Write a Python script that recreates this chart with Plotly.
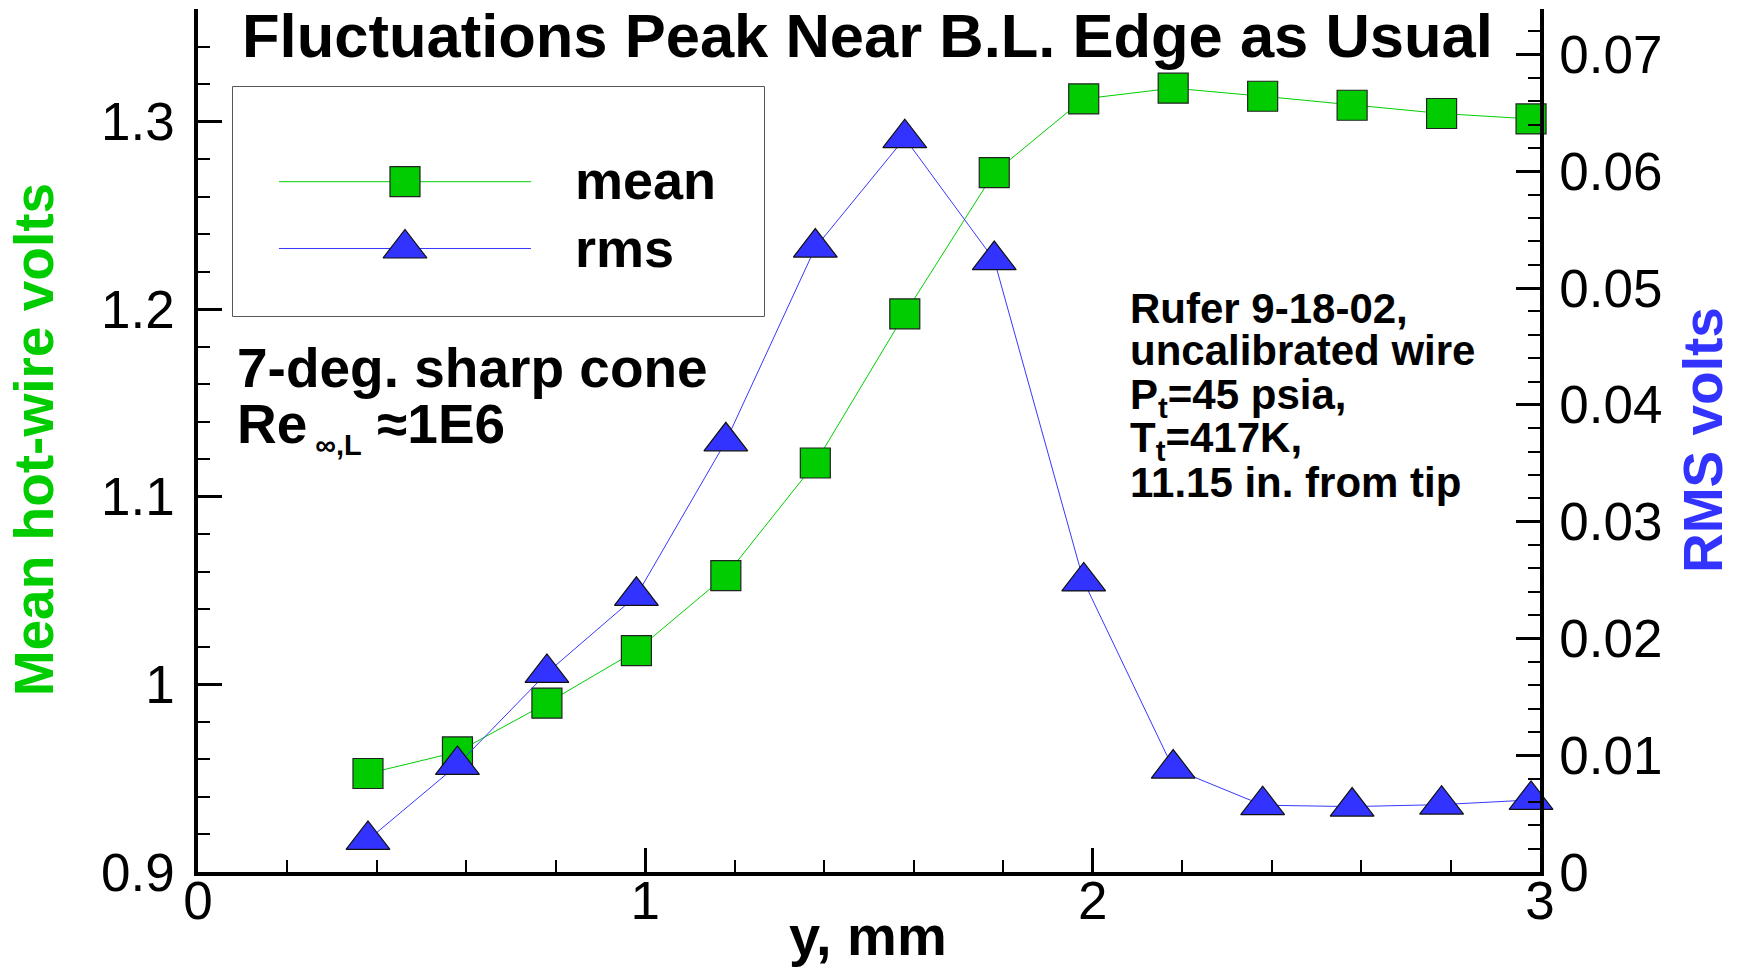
import plotly.graph_objects as go

# ---------------- data ----------------
y_mm = [0.38, 0.58, 0.78, 0.98, 1.18, 1.38, 1.58, 1.78, 1.98, 2.18, 2.38, 2.58, 2.78, 2.98]
mean_volts = [0.9525, 0.9640, 0.9900, 1.0180, 1.0580, 1.1180, 1.1975, 1.2728, 1.3121, 1.3178,
              1.3135, 1.3087, 1.3043, 1.3014]
rms_volts = [0.00275, 0.00917, 0.01705, 0.02365, 0.03688, 0.05347, 0.06284, 0.05240, 0.02488,
             0.00886, 0.00572, 0.00560, 0.00577, 0.00617]

x_ticks = [0, 1, 2, 3]
x_ticktext = ["0", "1", "2", "3"]
left_ticks = [0.9, 1.0, 1.1, 1.2, 1.3]
left_ticktext = ["0.9", "1", "1.1", "1.2", "1.3"]
right_ticks = [0, 0.01, 0.02, 0.03, 0.04, 0.05, 0.06, 0.07]
right_ticktext = ["0", "0.01", "0.02", "0.03", "0.04", "0.05", "0.06", "0.07"]

series_names = ["mean", "rms"]

# ---------------- styling / layout helpers ----------------
W, H = 1741, 967
ML, MR, MT, MB = 198, 201, 9, 95
PW, PH = W - ML - MR, H - MT - MB

def px_x(px):
    return (px - ML) / PW

def px_y(py):
    return (H - MB - py) / PH

FONT = "Liberation Sans, Arial, Helvetica, sans-serif"
GREEN = "#00CC00"
BLUE = "#3333FF"
GREEN_LINE = "#00D000"
BLUE_LINE = "#3838FF"

fig = go.Figure()

fig.add_trace(go.Scatter(
    x=y_mm, y=mean_volts, name=series_names[0], mode="lines+markers",
    line=dict(color=GREEN_LINE, width=1),
    marker=dict(symbol="square", size=30, color=GREEN, line=dict(color="#222222", width=1.2)),
    cliponaxis=False, showlegend=False, xaxis="x", yaxis="y"))

fig.add_trace(go.Scatter(
    x=y_mm, y=rms_volts, name=series_names[1], mode="lines+markers",
    line=dict(color=BLUE_LINE, width=1),
    marker=dict(symbol="triangle-up", size=38, color=BLUE, line=dict(color="#111111", width=1.2)),
    cliponaxis=False, showlegend=False, xaxis="x", yaxis="y2"))

# ---------------- hand-made legend (sample lines + markers) ----------------
leg_x0, leg_x1, leg_y0, leg_y1 = 233, 764, 87, 316
sample_rows = [0.5865, 0.2948]
sample_line_x = [0.0866, 0.5612]
sample_marker_x = 0.3239
fig.add_trace(go.Scatter(x=sample_line_x, y=[sample_rows[0]] * 2, mode="lines",
                         line=dict(color=GREEN_LINE, width=1), showlegend=False,
                         hoverinfo="skip", xaxis="x3", yaxis="y3"))
fig.add_trace(go.Scatter(x=[sample_marker_x], y=[sample_rows[0]], mode="markers",
                         marker=dict(symbol="square", size=30, color=GREEN,
                                     line=dict(color="#222222", width=1.2)),
                         showlegend=False, hoverinfo="skip", cliponaxis=False,
                         xaxis="x3", yaxis="y3"))
fig.add_trace(go.Scatter(x=sample_line_x, y=[sample_rows[1]] * 2, mode="lines",
                         line=dict(color=BLUE_LINE, width=1), showlegend=False,
                         hoverinfo="skip", xaxis="x3", yaxis="y3"))
fig.add_trace(go.Scatter(x=[sample_marker_x], y=[sample_rows[1]], mode="markers",
                         marker=dict(symbol="triangle-up", size=38, color=BLUE,
                                     line=dict(color="#111111", width=1.2)),
                         showlegend=False, hoverinfo="skip", cliponaxis=False,
                         xaxis="x3", yaxis="y3"))

axis_common = dict(
    showline=True, linecolor="black", linewidth=3.5, mirror=False,
    showgrid=False, zeroline=False,
    ticks="inside", ticklen=24, tickwidth=3, tickcolor="black",
    tickfont=dict(family=FONT, size=53, color="black"),
)

fig.update_layout(
    width=W, height=H, autosize=False,
    margin=dict(l=ML, r=MR, t=MT, b=MB, pad=0),
    paper_bgcolor="white", plot_bgcolor="white",
    showlegend=False,
    xaxis=dict(range=[0, 3], tickvals=x_ticks, ticktext=x_ticktext,
               minor=dict(dtick=0.2, tick0=0, ticks="inside", ticklen=12, tickwidth=1.5,
                          tickcolor="black"),
               ticklabelstandoff=-20,
               **axis_common),
    yaxis=dict(range=[0.9, 1.36], tickvals=left_ticks, ticktext=left_ticktext,
               minor=dict(dtick=0.02, tick0=0.9, ticks="inside", ticklen=12, tickwidth=1.5,
                          tickcolor="black"),
               ticklabelstandoff=9,
               **axis_common),
    yaxis2=dict(range=[0, 0.0739], overlaying="y", side="right", anchor="x",
                tickvals=right_ticks, ticktext=right_ticktext,
                minor=dict(dtick=0.002, tick0=0, ticks="inside", ticklen=12, tickwidth=1.5,
                           tickcolor="black"),
                ticklabelstandoff=5,
                **axis_common),
    xaxis3=dict(domain=[px_x(leg_x0), px_x(leg_x1)], range=[0, 1], visible=False,
                anchor="y3", fixedrange=True),
    yaxis3=dict(domain=[px_y(leg_y1), px_y(leg_y0)], range=[0, 1], visible=False,
                anchor="x3", fixedrange=True),
)

# legend box
fig.add_shape(type="rect", xref="paper", yref="paper",
              x0=px_x(leg_x0), x1=px_x(leg_x1), y0=px_y(leg_y1), y1=px_y(leg_y0),
              line=dict(color="#202020", width=1.5), fillcolor="rgba(0,0,0,0)", layer="below")

def ann(text, x, y, size, xanchor="left", yanchor="top", color="black", angle=0, weight="bold"):
    fig.add_annotation(text=text, xref="paper", yref="paper", x=x, y=y,
                       xanchor=xanchor, yanchor=yanchor, showarrow=False, textangle=angle,
                       font=dict(family=FONT, size=size, color=color, weight=weight),
                       align="left")

# title
ann("Fluctuations Peak Near B.L. Edge as Usual", px_x(867.5), px_y(-1.0), 61.5, xanchor="center")

# legend labels
ann(series_names[0], px_x(573), px_y(148.4), 54)
ann(series_names[1], px_x(573), px_y(215.8), 54)

# left notes
ann("7-deg. sharp cone", px_x(235), px_y(334.9), 55)
ann("Re<sub><span style='font-size:29px'> ∞,L</span></sub> ≈1E6", px_x(235), px_y(390.7), 55)

# right notes
right_lines = ["Rufer 9-18-02,", "uncalibrated wire", "P<sub>t</sub>=45 psia,",
               "T<sub>t</sub>=417K,", "11.15 in. from tip"]
right_tops = [282.7, 325, 369.3, 411.7, 456.7]
for t, top in zip(right_lines, right_tops):
    ann(t, px_x(1128), px_y(top), 42)

# axis titles
ann("Mean hot-wire volts", px_x(34.3), px_y(440), 55, xanchor="center", yanchor="middle",
    color=GREEN, angle=-90)
ann("RMS volts", px_x(1703), px_y(440), 55, xanchor="center", yanchor="middle",
    color=BLUE, angle=-90)
ann("y, mm", px_x(868), px_y(935.6), 56, xanchor="center", yanchor="middle")

fig.write_html("out.html")
